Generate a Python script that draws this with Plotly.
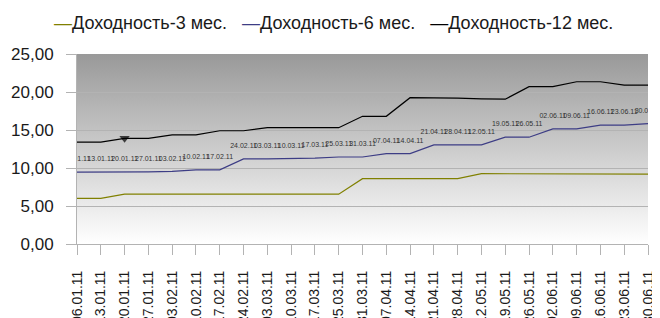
import base64
import plotly.graph_objects as go

categories = ["06.01.11", "13.01.11", "20.01.11", "27.01.11", "03.02.11", "10.02.11",
              "17.02.11", "24.02.11", "03.03.11", "10.03.11", "17.03.11", "25.03.11",
              "31.03.11", "07.04.11", "14.04.11", "21.04.11", "28.04.11", "12.05.11",
              "19.05.11", "26.05.11", "02.06.11", "09.06.11", "16.06.11", "23.06.11",
              "30.06.11"]

y3 = [6.0, 6.0, 6.55, 6.55, 6.55, 6.55, 6.55, 6.55, 6.55, 6.55, 6.55, 6.55,
      8.6, 8.6, 8.6, 8.6, 8.6, 9.25, 9.25, 9.25, 9.25, 9.25, 9.25, 9.2, 9.2]
y6 = [9.45, 9.45, 9.45, 9.5, 9.55, 9.75, 9.75, 11.2, 11.2, 11.25, 11.3, 11.45,
      11.45, 11.9, 11.9, 13.05, 13.05, 13.05, 14.05, 14.05, 15.15, 15.15, 15.65,
      15.65, 15.85]
y12 = [13.4, 13.4, 13.9, 13.9, 14.35, 14.35, 14.9, 14.9, 15.3, 15.3, 15.3, 15.3,
       16.8, 16.8, 19.25, 19.25, 19.2, 19.1, 19.05, 20.7, 20.7, 21.35, 21.35,
       20.9, 20.9]

names = ["Доходность-3 мес.", "Доходность-6 мес.", "Доходность-12 мес."]
colors = ["#808000", "#3d3d85", "#000000"]
marked_index = 2

FONT = "Liberation Sans, Arial, sans-serif"

fig = go.Figure()
fig.add_trace(go.Scatter(x=categories, y=y3, mode="lines", name=names[0],
                         line=dict(color=colors[0], width=1.2), showlegend=False))
fig.add_trace(go.Scatter(x=categories, y=y6, mode="lines+markers+text", name=names[1],
                         text=categories, textposition="top center",
                         marker=dict(size=13, opacity=0),
                         textfont=dict(size=7, color="#333333", family=FONT),
                         line=dict(color=colors[1], width=1.2), showlegend=False))
sizes = [9 if i == marked_index else 0 for i in range(len(categories))]
fig.add_trace(go.Scatter(x=categories, y=y12, mode="lines+markers", name=names[2],
                         marker=dict(symbol="triangle-down", size=sizes, color="#000000",
                                     line=dict(width=0)),
                         line=dict(color=colors[2], width=1.2), showlegend=False))

legend_text = "   ".join(
    f"<span style='color:{c}'>—</span>{n}" for n, c in zip(names, colors))
fig.add_annotation(text=legend_text, xref="paper", yref="paper", x=0.45, y=1.162,
                   xanchor="center", yanchor="middle", showarrow=False,
                   font=dict(size=18, color="#1a1a1a", family=FONT))

svg = ('<svg xmlns="http://www.w3.org/2000/svg" width="10" height="100" '
       'viewBox="0 0 10 100" preserveAspectRatio="none"><defs>'
       '<linearGradient id="g" x1="0" y1="0" x2="0" y2="1">'
       '<stop offset="0" stop-color="#999999"/><stop offset="1" stop-color="#ffffff"/>'
       '</linearGradient></defs><rect width="10" height="100" fill="url(#g)"/></svg>')
src = "data:image/svg+xml;base64," + base64.b64encode(svg.encode()).decode()
fig.add_layout_image(source=src, xref="paper", yref="paper", x=0, y=1, sizex=1, sizey=1,
                     xanchor="left", yanchor="top", sizing="stretch", layer="below")

fig.update_layout(
    width=660, height=318,
    margin=dict(l=69, r=20, t=46, b=82, autoexpand=False),
    paper_bgcolor="white", plot_bgcolor="rgba(0,0,0,0)",
    separators=", ",
    font=dict(family=FONT, color="#1a1a1a"),
)
fig.update_xaxes(type="category", range=[0, len(categories) - 1], automargin=False,
                 showgrid=False, showline=True, linecolor="#b3b3b3", linewidth=1,
                 ticks="outside", ticklen=10, tickcolor="#b3b3b3",
                 ticklabelstandoff=10,
                 tickangle=-90, tickfont=dict(size=14, color="#1a1a1a"))
fig.update_yaxes(range=[0, 25], dtick=5, tickformat=".2f", automargin=False,
                 showgrid=True, gridcolor="#b3b3b3", gridwidth=1,
                 showline=True, linecolor="#b3b3b3", zeroline=False,
                 ticks="outside", ticklen=10, tickcolor="#b3b3b3",
                 ticklabelstandoff=9, tickfont=dict(size=17, color="#1a1a1a"))

fig.write_html("out.html")
